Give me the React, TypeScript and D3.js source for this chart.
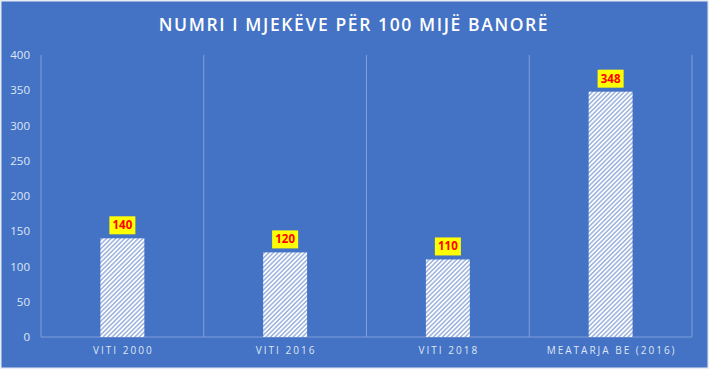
import React from "react";
import * as d3 from "d3";

const categories = ["VITI 2000", "VITI 2016", "VITI 2018", "MEATARJA BE (2016)"];
const values = [140, 120, 110, 348];
const yTicks = [0, 50, 100, 150, 200, 250, 300, 350, 400];
const title = "NUMRI I MJEKËVE PËR 100 MIJË BANORË";

const W = 709;
const H = 369;
const BG = "#4472C4";
const GRID = "#7f9fd9";
const TEXT = "#dfe7f5";

export default function App() {
  if (typeof document !== "undefined") document.body.style.margin = "0";
  const left = 41, right = 692, top = 55, bottom = 337;
  const x = d3.scaleBand<string>().domain(categories).range([left, right]).paddingInner(0.73).paddingOuter(0.365);
  const band = d3.scaleBand<string>().domain(categories).range([left, right]);
  const y = d3.scaleLinear().domain([0, 400]).range([bottom, top]);
  const font = "Open Sans, Lato, sans-serif";
  return (
    <svg width={W} height={H} style={{ display: "block" }} fontFamily={font}>
      <defs>
        <pattern id="hatch" patternUnits="userSpaceOnUse" width={3.2} height={3.2} patternTransform="rotate(45)">
          <rect width={3.2} height={3.2} fill="#ffffff" />
          <line x1={0.8} y1={0} x2={0.8} y2={3.2} stroke="#5a7fc6" strokeWidth={0.9} />
        </pattern>
      </defs>
      <rect x={0} y={0} width={W} height={H} fill="#e8ecf4" />
      <rect x={1.5} y={1.5} width={W - 3} height={H - 3} fill={BG} />
      <text x={354} y={31} textAnchor="middle" fill="#ffffff" fontSize={17.5} fontWeight={600} letterSpacing={1.6}>
        {title}
      </text>
      {categories.map((c) => (
        <line key={"g" + c} x1={band(c)!} x2={band(c)!} y1={top} y2={bottom} stroke={GRID} strokeWidth={1} />
      ))}
      <line x1={right} x2={right} y1={top} y2={bottom} stroke={GRID} strokeWidth={1} />
      <line x1={left} x2={right} y1={bottom} y2={bottom} stroke={GRID} strokeWidth={1} />
      {yTicks.map((t) => (
        <text key={"y" + t} x={30} y={y(t)} dy="0.35em" textAnchor="end" fill={TEXT} fontSize={11.5}>
          {t}
        </text>
      ))}
      {categories.map((c, i) => {
        const bx = x(c)!;
        const bw = x.bandwidth();
        const yt = y(values[i]);
        const cx = bx + bw / 2;
        return (
          <g key={"b" + c}>
            <rect x={bx} y={yt} width={bw} height={bottom - yt} fill="url(#hatch)" />
            <rect x={cx - 13} y={yt - 22} width={26} height={18} fill="#ffff00" />
            <text x={cx} y={yt - 13} dy="0.35em" textAnchor="middle" fill="#ff0000" fontSize={11.5} fontWeight={700}>
              {values[i]}
            </text>
            <text x={cx + 1} y={354} textAnchor="middle" fill={TEXT} fontSize={10} fontWeight={500} letterSpacing={2}>
              {c}
            </text>
          </g>
        );
      })}
    </svg>
  );
}
